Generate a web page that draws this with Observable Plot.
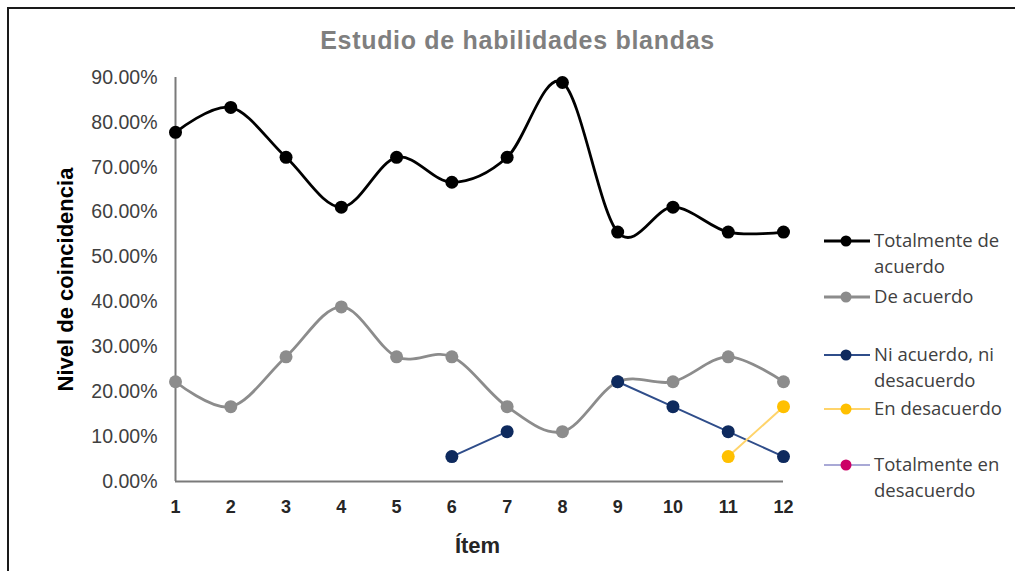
<!DOCTYPE html>
<html>
<head>
<meta charset="utf-8">
<script src="https://cdn.jsdelivr.net/npm/d3@7"></script>
<script src="https://cdn.jsdelivr.net/npm/@observablehq/plot@0.6"></script>
<style>
  html, body { margin: 0; padding: 0; background: #fff; }
  #wrap { position: relative; width: 1015px; height: 571px; overflow: hidden; }
  #frame { position: absolute; left: 7px; top: 7px; width: 1100px; height: 700px; border-left: 2px solid #1a1a1a; border-top: 2px solid #1a1a1a; box-sizing: border-box; }
  #title { position: absolute; left: 0; top: 26px; width: 1035px; text-align: center; font-family: "Liberation Sans", Arial, sans-serif; font-weight: bold; font-size: 25px; color: #7f7f7f; letter-spacing: 0.7px; }
  #chart { position: absolute; left: 0; top: 60px; }
  #legend { position: absolute; left: 822px; top: 0; font-family: "Open Sans", sans-serif; font-size: 18.5px; color: #404040; }
  .item { position: absolute; left: 0; white-space: nowrap; }
  .item svg { position: absolute; left: 0; top: 0; }
  .item .txt { position: absolute; left: 52px; top: -1px; line-height: 26px; }
</style>
</head>
<body>
<div id="wrap">
  <div id="frame"></div>
  <div id="title">Estudio de habilidades blandas</div>
  <div id="chart"></div>
  <div id="legend"></div>
</div>
<script>
const items = [1, 2, 3, 4, 5, 6, 7, 8, 9, 10, 11, 12];
const totalmenteDeAcuerdo = [0.7778, 0.8333, 0.7222, 0.6111, 0.7222, 0.6667, 0.7222, 0.8889, 0.5556, 0.6111, 0.5556, 0.5556];
const deAcuerdo = [0.2222, 0.1667, 0.2778, 0.3889, 0.2778, 0.2778, 0.1667, 0.1111, 0.2222, 0.2222, 0.2778, 0.2222];
const niAcuerdoNiDesacuerdo = [null, null, null, null, null, 0.0556, 0.1111, null, 0.2222, 0.1667, 0.1111, 0.0556];
const enDesacuerdo = [null, null, null, null, null, null, null, null, null, null, 0.0556, 0.1667];
const totalmenteEnDesacuerdo = [null, null, null, null, null, null, null, null, null, null, null, null];
const yTicks = [0, 0.1, 0.2, 0.3, 0.4, 0.5, 0.6, 0.7, 0.8, 0.9];

const seriesDefs = [
  {name: "Totalmente de acuerdo", lines: ["Totalmente de", "acuerdo"], values: totalmenteDeAcuerdo, stroke: "#000000", dot: "#000000", width: 2.8},
  {name: "De acuerdo", lines: ["De acuerdo"], values: deAcuerdo, stroke: "#8c8c8c", dot: "#8c8c8c", width: 2.8},
  {name: "Ni acuerdo, ni desacuerdo", lines: ["Ni acuerdo, ni", "desacuerdo"], values: niAcuerdoNiDesacuerdo, stroke: "#2f4d8a", dot: "#0e2a5e", width: 2},
  {name: "En desacuerdo", lines: ["En desacuerdo"], values: enDesacuerdo, stroke: "#ffd46b", dot: "#ffc000", width: 2},
  {name: "Totalmente en desacuerdo", lines: ["Totalmente en", "desacuerdo"], values: totalmenteEnDesacuerdo, stroke: "#a9a9d6", dot: "#cc0066", width: 2}
];

const rows = [];
for (const s of seriesDefs) {
  items.forEach((it, i) => rows.push({serie: s.name, item: it, value: s.values[i] == null ? NaN : s.values[i]}));
}

const fmt = d => (d * 100).toFixed(2) + "%";
const font = "Liberation Sans, Arial, sans-serif";
const marks = [
  Plot.ruleX([1], {stroke: "#7a7a7a", strokeWidth: 2}),
  Plot.ruleY([0], {stroke: "#7a7a7a", strokeWidth: 2}),
  Plot.axisY({ticks: yTicks, tickFormat: fmt, tickSize: 0, tickPadding: 18, fontSize: 19.5, fill: "#404040", label: null, fontFamily: font, letterSpacing: 0.4}),
  Plot.axisX({ticks: items, tickFormat: d => String(d), tickSize: 0, tickPadding: 19, fontSize: 18, fontWeight: "bold", fill: "#262626", label: null, fontFamily: font}),
  Plot.text(["Nivel de coincidencia"], {frameAnchor: "left", textAnchor: "middle", lineAnchor: "middle", dx: -110, rotate: -90, fontSize: 22, fontWeight: "bold", fill: "#000", fontFamily: font, letterSpacing: 1}),
  Plot.text(["Ítem"], {frameAnchor: "bottom", textAnchor: "middle", lineAnchor: "middle", dy: 64, dx: -2, fontSize: 22, fontWeight: "bold", fill: "#262626", fontFamily: font, letterSpacing: 1})
];
for (const s of seriesDefs) {
  const data = rows.filter(r => r.serie === s.name);
  const smooth = s.name === "Totalmente de acuerdo" || s.name === "De acuerdo";
  marks.push(Plot.line(data, {x: "item", y: "value", stroke: s.stroke, strokeWidth: s.width, curve: smooth ? "cardinal" : "linear", tension: 0}));
  marks.push(Plot.dot(data.filter(d => !isNaN(d.value)), {x: "item", y: "value", r: 6.5, fill: s.dot, stroke: "none"}));
}

const chart = Plot.plot({
  width: 1015, height: 510,
  marginLeft: 175, marginRight: 232, marginTop: 17, marginBottom: 89,
  x: {type: "linear", domain: [1, 12]},
  y: {domain: [0, 0.9]},
  style: {background: "transparent", overflow: "visible"},
  marks
});
document.getElementById("chart").appendChild(chart);

// legend
const legendTops = [228, 284, 342, 396, 452];
const legend = document.getElementById("legend");
seriesDefs.forEach((s, i) => {
  const div = document.createElement("div");
  div.className = "item";
  div.style.top = legendTops[i] + "px";
  div.innerHTML = `<svg width="50" height="26"><line x1="2" x2="48" y1="13" y2="13" stroke="${s.stroke}" stroke-width="${s.width}"/><circle cx="24" cy="13" r="5.5" fill="${s.dot}"/></svg><div class="txt">${s.lines.join("<br>")}</div>`;
  legend.appendChild(div);
});
</script>
</body>
</html>
